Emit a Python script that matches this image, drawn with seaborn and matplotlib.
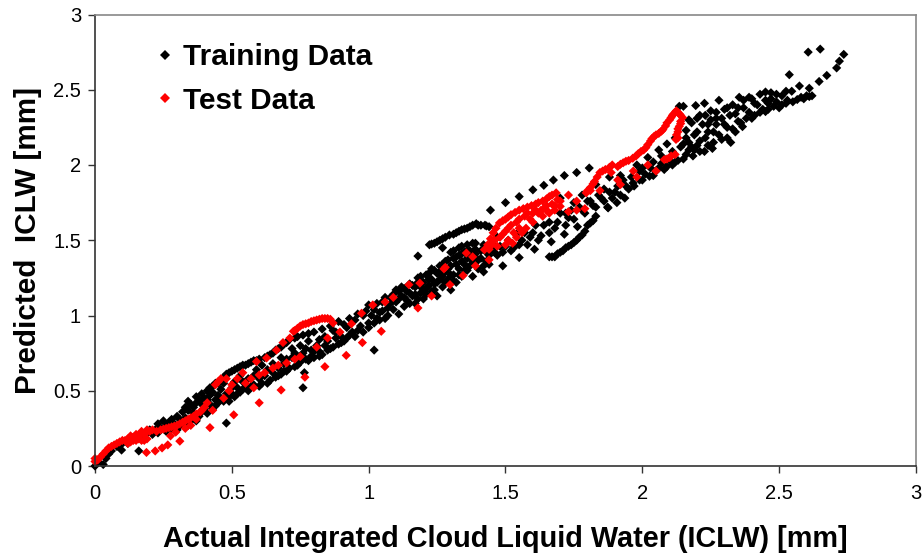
import matplotlib
matplotlib.use("Agg")
import matplotlib.pyplot as plt
import seaborn as sns
import pandas as pd

# --- values: (actual, predicted) ---
train_low = [(0.00,0.00),(0.01,0.03),(0.03,0.01),(0.04,0.05),(0.05,0.08),(0.06,0.10),(0.08,0.13),(0.10,0.15),(0.097,0.106),
    (0.12,0.15),(0.14,0.19),(0.16,0.10),(0.17,0.20),(0.19,0.22),(0.20,0.24),(0.22,0.24),(0.23,0.28),(0.24,0.25),(0.25,0.30),
    (0.26,0.27),(0.28,0.31),(0.31,0.31),(0.33,0.32),(0.30,0.24),(0.28,0.25),(0.26,0.23),(0.34,0.27),(0.37,0.30),(0.33,0.39),(0.34,0.43),
    (0.35,0.41),(0.37,0.42),(0.39,0.41),(0.40,0.45),(0.39,0.36),(0.41,0.50),(0.42,0.47),(0.43,0.53),(0.43,0.38),(0.44,0.44),(0.45,0.55),
    (0.46,0.44),(0.47,0.59),(0.48,0.285),(0.49,0.46),(0.49,0.62),(0.50,0.52),(0.51,0.64),(0.52,0.48),(0.53,0.66),(0.54,0.56),(0.55,0.67),
    (0.56,0.50),(0.57,0.69),(0.58,0.60),(0.59,0.70),(0.60,0.53),(0.62,0.72),(0.63,0.55),(0.64,0.74),(0.65,0.62),(0.66,0.77),(0.67,0.60),
    (0.68,0.79),(0.69,0.68),(0.70,0.63),(0.70,0.82),(0.72,0.72),(0.73,0.85),(0.74,0.67),(0.76,0.52),(0.765,0.62),(0.76,0.75),(0.78,0.70),
    (0.78,0.88),(0.80,0.76),(0.82,0.73),(0.82,0.84),(0.84,0.80),(0.86,0.78),(0.87,0.90),(0.88,0.85),(0.90,0.82),(0.92,0.92),(0.93,0.87),
    (0.95,0.97),(0.96,0.90),(0.98,1.00),(1.00,0.95),(1.02,0.77),(1.02,1.04),(1.03,0.98)]
train_low_fill = [(0.21,0.21),(0.23,0.22),(0.25,0.25),(0.27,0.29),(0.29,0.28),(0.30,0.33),(0.31,0.27),(0.32,0.36),(0.33,0.29),(0.34,0.37),(0.35,0.30),
    (0.36,0.39),(0.36,0.35),(0.37,0.46),(0.38,0.33),(0.38,0.44),(0.39,0.48),(0.40,0.38),(0.41,0.35),(0.41,0.44),(0.42,0.52),(0.42,0.41),(0.43,0.49),
    (0.44,0.40),(0.44,0.55),(0.45,0.47),(0.45,0.42),(0.46,0.57),(0.46,0.51),(0.47,0.43),(0.47,0.55),(0.48,0.48),(0.48,0.61),(0.49,0.43),(0.50,0.48),
    (0.50,0.63),(0.51,0.46),(0.51,0.56),(0.52,0.65),(0.52,0.52),(0.53,0.49),(0.53,0.60),(0.54,0.51),(0.54,0.67),(0.55,0.52),(0.56,0.68),(0.56,0.58),
    (0.57,0.53),(0.58,0.70),(0.58,0.54),(0.59,0.64),(0.60,0.71),(0.60,0.58),(0.61,0.55),(0.61,0.67),(0.62,0.60),(0.63,0.73),(0.63,0.64),(0.64,0.57),
    (0.65,0.75),(0.65,0.68),(0.66,0.59),(0.67,0.78),(0.67,0.65),(0.68,0.61),(0.68,0.72),(0.69,0.81),(0.69,0.63),(0.70,0.71),(0.71,0.65),(0.71,0.84),
    (0.72,0.78),(0.73,0.66),(0.73,0.75),(0.74,0.86),(0.74,0.72),(0.75,0.69),(0.75,0.80),(0.76,0.87),(0.77,0.71),(0.77,0.78),(0.78,0.83),(0.79,0.73),
    (0.79,0.77),(0.80,0.89),(0.80,0.72),(0.81,0.80),(0.82,0.76),(0.83,0.91),(0.83,0.74),(0.84,0.86),(0.85,0.77),(0.85,0.83),(0.86,0.93),(0.87,0.79),
    (0.88,0.89),(0.89,0.81),(0.89,0.96),(0.90,0.86),(0.91,0.83),(0.91,0.94),(0.92,0.85),(0.93,0.98),(0.94,0.89),(0.95,0.86),(0.96,1.01),(0.97,0.93),
    (0.98,0.89),(0.99,1.03),(1.00,0.92),(1.00,1.07),(1.01,1.00),(1.02,0.95),(1.03,1.08),(1.04,0.97)]
train_mid = [(1.04,1.02),(1.05,1.09),(1.06,0.98),(1.07,1.05),(1.08,1.12),(1.09,1.04),(1.10,1.17),(1.10,1.09),(1.11,1.01),(1.12,1.13),(1.12,1.19),
    (1.13,1.06),(1.14,1.16),(1.14,1.10),(1.15,1.21),(1.16,1.13),(1.17,1.08),(1.17,1.19),(1.18,1.395),(1.18,1.25),(1.19,1.15),(1.20,1.22),
    (1.20,1.11),(1.21,1.27),(1.21,1.18),(1.22,1.24),(1.23,1.16),(1.23,1.31),(1.24,1.21),(1.25,1.28),(1.25,1.13),(1.26,1.33),(1.26,1.24),
    (1.27,1.45),(1.27,1.19),(1.28,1.29),(1.28,1.36),(1.29,1.24),(1.30,1.33),(1.30,1.17),(1.31,1.38),(1.31,1.27),(1.32,1.22),(1.33,1.40),
    (1.33,1.31),(1.34,1.26),(1.35,1.42),(1.35,1.34),(1.36,1.30),(1.37,1.43),(1.38,1.36),(1.38,1.26),(1.39,1.41),(1.40,1.31),(1.41,1.38),
    (1.42,1.29),(1.43,1.42),(1.44,1.34),(1.45,1.45),(1.47,1.40),(1.49,1.33),(1.50,1.46),(1.52,1.43),(1.55,1.385),(1.56,1.50),(1.58,1.47),
    (1.606,1.44),(1.60,1.55),(1.63,1.53),(1.667,1.49),(1.68,1.58),(1.715,1.54),(1.73,1.65),(1.763,1.59),(1.78,1.70),(1.82,1.73),(1.85,1.78),
    (1.873,1.72),(1.875,1.715),(1.90,1.82),(1.907,1.75),(1.936,1.78),(1.94,1.86),(1.966,1.88),(1.99,1.90),(2.026,1.925),(2.05,1.96),(2.08,1.97),
    (2.11,2.00),(2.13,2.03),(2.16,2.07),(2.185,2.06),(2.20,2.13)]
train_mid_fill = [(1.05,1.03),(1.06,1.12),(1.07,1.00),(1.08,1.08),(1.09,1.14),(1.11,1.11),(1.11,1.16),(1.13,1.18),(1.13,1.12),(1.15,1.15),(1.15,1.08),
    (1.16,1.20),(1.17,1.14),(1.18,1.22),(1.18,1.11),(1.19,1.19),(1.19,1.26),(1.20,1.16),(1.21,1.14),(1.22,1.20),(1.22,1.28),(1.23,1.24),(1.24,1.30),
    (1.24,1.17),(1.25,1.22),(1.26,1.29),(1.27,1.26),(1.27,1.34),(1.28,1.22),(1.29,1.31),(1.29,1.37),(1.30,1.27),(1.31,1.23),(1.32,1.34),(1.32,1.39),
    (1.33,1.27),(1.34,1.36),(1.34,1.41),(1.35,1.30),(1.36,1.38),(1.36,1.43),(1.37,1.33),(1.38,1.40),(1.39,1.35),(1.39,1.44),(1.40,1.37),(1.41,1.43),
    (1.42,1.33),(1.43,1.36),(1.44,1.40),(1.46,1.42),(1.48,1.46),(1.49,1.42),(1.51,1.50),(1.53,1.45),(1.54,1.54),(1.55,1.47),(1.57,1.55),(1.59,1.52),
    (1.61,1.60),(1.62,1.50),(1.64,1.60),(1.66,1.55),(1.69,1.62),(1.70,1.68),(1.72,1.60),(1.74,1.70),(1.75,1.64),(1.77,1.72),(1.79,1.68),(1.81,1.76),
    (1.83,1.72),(1.84,1.80),(1.86,1.76),(1.88,1.82),(1.89,1.78),(1.91,1.86),(1.92,1.80),(1.93,1.90),(1.95,1.84),(1.96,1.92),(1.97,1.86),(1.99,1.96),
    (2.00,1.90),(2.01,1.94),(2.03,1.98),(2.04,1.93),(2.06,1.98),(2.07,2.01),(2.09,1.99),(2.10,2.03),(2.12,2.02),(2.15,2.04),(2.17,2.10),(2.19,2.10),(2.21,2.09)]
train_upper_arc = [(1.222,1.47),(1.24,1.48),(1.26,1.50),(1.28,1.52),(1.295,1.535),(1.32,1.55),(1.34,1.57),(1.36,1.58),(1.38,1.60),(1.393,1.61),
    (1.41,1.60),(1.425,1.60),(1.44,1.59),(1.445,1.70),(1.50,1.75),(1.55,1.79),(1.60,1.835),(1.64,1.865),(1.675,1.90),(1.715,1.93),(1.76,1.95),(1.806,1.98),
    (1.23,1.475),(1.25,1.49),(1.27,1.51),(1.31,1.54),(1.33,1.56),(1.35,1.575),(1.37,1.59),(1.40,1.60),(1.43,1.595),
    (1.30,1.42),(1.31,1.43),(1.33,1.45),(1.34,1.46),(1.36,1.47),(1.38,1.48),(1.39,1.48),(1.42,1.47),(1.45,1.48),(1.47,1.52),(1.66,1.62),(1.70,1.78),(1.72,1.68),(1.75,1.75),(1.78,1.80),(1.80,1.76),(1.83,1.87),(1.86,1.84),(1.88,1.92),(1.92,1.93)]
train_lower_arc = [(1.66,1.39),(1.67,1.39),(1.68,1.39),(1.69,1.41),(1.70,1.42),(1.71,1.43),(1.72,1.45),(1.73,1.46),(1.74,1.47),(1.75,1.485),(1.76,1.50),(1.77,1.52),(1.78,1.535),(1.79,1.56),(1.80,1.60),(1.81,1.615),(1.82,1.63),(1.83,1.66)]
train_high = [(1.98,2.00),(2.00,1.98),(2.02,2.05),(2.04,2.02),(2.06,2.10),(2.07,2.06),(2.09,2.14),(2.11,2.09),(2.12,2.18),(2.135,2.39),(2.14,2.12),(2.15,2.39),
    (2.16,2.23),(2.17,2.15),(2.18,2.28),(2.195,2.395),(2.20,2.22),(2.21,2.33),(2.227,2.41),(2.227,2.09),(2.23,2.18),(2.24,2.27),(2.25,2.36),(2.256,2.11),
    (2.26,2.22),(2.27,2.31),(2.28,2.43),(2.29,2.17),(2.30,2.27),(2.31,2.38),(2.323,2.15),(2.33,2.24),(2.34,2.34),(2.354,2.45),(2.35,2.29),(2.366,2.255),
    (2.37,2.38),(2.39,2.45),(2.40,2.31),(2.41,2.41),(2.43,2.35),(2.45,2.485),(2.45,2.355),(2.46,2.41),(2.47,2.44),(2.49,2.47),(2.50,2.38),(2.525,2.41),
    (2.525,2.49),(2.537,2.60),(2.546,2.49),(2.566,2.435),(2.574,2.525),(2.61,2.455),(2.61,2.51),(2.59,2.44),(2.606,2.75),(2.646,2.555),(2.65,2.77),(2.674,2.595),
    (2.71,2.645),(2.72,2.69),(2.736,2.735)]
train_high_fill = [(2.15,2.14),(2.16,2.18),(2.17,2.30),(2.18,2.12),(2.19,2.20),(2.20,2.31),(2.21,2.16),(2.22,2.27),(2.23,2.33),(2.24,2.13),(2.24,2.22),(2.25,2.30),
    (2.26,2.15),(2.27,2.27),(2.27,2.35),(2.28,2.20),(2.29,2.31),(2.30,2.37),(2.31,2.18),(2.31,2.25),(2.32,2.33),(2.33,2.40),(2.34,2.22),(2.35,2.38),(2.36,2.28),
    (2.37,2.43),(2.38,2.31),(2.39,2.35),(2.40,2.44),(2.41,2.33),(2.42,2.40),(2.43,2.47),(2.44,2.37),(2.45,2.43),(2.46,2.37),(2.47,2.48),(2.48,2.39),(2.49,2.42),
    (2.51,2.40),(2.51,2.46),(2.53,2.43),(2.55,2.42),(2.58,2.45),(2.60,2.46),(2.62,2.46)]

test_low = [(0.00,0.05),(0.00,0.03),(0.01,0.04),(0.02,0.06),(0.03,0.08),(0.04,0.10),(0.05,0.12),(0.06,0.13),(0.08,0.15),(0.10,0.17),(0.11,0.17),(0.12,0.18),
    (0.13,0.20),(0.13,0.16),(0.14,0.19),(0.15,0.21),(0.15,0.17),(0.16,0.20),(0.17,0.23),(0.17,0.17),(0.18,0.21),(0.19,0.24),(0.19,0.18),(0.20,0.23),
    (0.188,0.09),(0.22,0.10),(0.245,0.12),(0.266,0.14),(0.31,0.165),(0.276,0.20),(0.295,0.225),(0.225,0.23),(0.24,0.24),(0.26,0.25),(0.28,0.26),(0.30,0.27),
    (0.32,0.29),(0.33,0.30),(0.35,0.32),(0.36,0.33),(0.33,0.25),(0.35,0.27),(0.37,0.31),(0.385,0.36),(0.40,0.39),(0.42,0.255),(0.41,0.42),(0.43,0.37),(0.45,0.56),
    (0.46,0.58),(0.48,0.58),(0.50,0.54),(0.47,0.45),(0.507,0.34),(0.54,0.62),(0.55,0.55),(0.58,0.52),(0.59,0.694),(0.60,0.42),(0.60,0.605),(0.627,0.718),
    (0.65,0.65),(0.663,0.77),(0.68,0.505),(0.687,0.82),(0.70,0.685),(0.712,0.85),(0.725,0.895),(0.74,0.915),(0.75,0.727),(0.75,0.93),(0.767,0.59),(0.77,0.945),
    (0.79,0.96),(0.81,0.79),(0.81,0.97),(0.83,0.98),(0.84,0.66),(0.85,0.85),(0.85,0.98),(0.86,0.975),(0.87,0.95),(0.895,0.89),(0.918,0.735),(0.937,0.945),
    (0.974,1.015),(0.977,0.82),(1.015,1.07),(1.046,0.895),(1.06,1.09),(1.09,1.12)]
test_low_fill = [(0.07,0.14),(0.09,0.16),(0.12,0.15),(0.14,0.17),(0.16,0.18),(0.18,0.17),(0.21,0.24),(0.25,0.245),(0.27,0.255),(0.29,0.265),(0.31,0.28),(0.34,0.31),
    (0.37,0.345),(0.39,0.37),(0.44,0.54),(0.49,0.50),(0.52,0.58),(0.57,0.58),(0.62,0.62),(0.67,0.67),(0.73,0.71),(0.73,0.90),(0.76,0.94),(0.78,0.95),(0.80,0.965),(0.82,0.975),(0.84,0.98)]
test_mid = [(1.147,1.205),(1.187,1.215),(1.23,1.13),(1.18,1.05),(1.275,1.31),(1.28,1.32),(1.297,1.205),(1.345,1.266),(1.357,1.415),(1.38,1.39),(1.39,1.33),(1.44,1.37)]
test_cluster = [(1.423,1.437),(1.435,1.47),(1.445,1.51),(1.455,1.55),(1.465,1.58),(1.478,1.615),(1.50,1.64),(1.52,1.67),(1.55,1.70),(1.58,1.72),(1.61,1.74),
    (1.636,1.76),(1.66,1.79),(1.685,1.815),(1.44,1.44),(1.47,1.46),(1.50,1.47),(1.526,1.48),(1.54,1.52),(1.56,1.55),(1.575,1.58),(1.60,1.62),(1.636,1.66),
    (1.66,1.68),(1.68,1.70),(1.70,1.725),(1.48,1.52),(1.50,1.56),(1.52,1.60),(1.55,1.64),(1.58,1.68),(1.61,1.70),(1.64,1.71),(1.67,1.74),(1.69,1.77),
    (1.73,1.69),(1.76,1.70),(1.79,1.71),(1.76,1.76),(1.81,1.83),(1.73,1.80),(1.845,1.83),(1.92,1.87),(1.98,1.92),(2.05,1.96),
    (1.49,1.63),(1.51,1.655),(1.535,1.685),(1.565,1.71),(1.595,1.73),(1.62,1.75),(1.65,1.775),(1.67,1.80),(1.65,1.73),(1.63,1.70),(1.60,1.68),(1.57,1.66),(1.54,1.62),
    (1.51,1.58),(1.49,1.54),(1.46,1.50),(1.45,1.47),(1.51,1.50),(1.53,1.55),(1.55,1.58),(1.59,1.64),(1.62,1.68),(1.65,1.70),(1.68,1.73),(1.70,1.76)]
test_high = [(1.795,1.815),(1.80,1.83),(1.81,1.85),(1.82,1.875),(1.825,1.89),(1.835,1.92),(1.845,1.95),(1.855,1.96),(1.865,1.97),(1.88,1.985),(1.89,2.00),(1.886,1.95),(1.91,1.99),(1.92,2.005),(1.93,2.015),(1.94,2.025),(1.95,2.03),(1.965,2.045),(1.977,2.06),
    (1.985,2.075),(1.995,2.09),(2.005,2.10),(2.013,2.115),(2.02,2.135),(2.03,2.16),(2.035,2.175),(2.043,2.19),(2.05,2.20),(2.06,2.21),(2.07,2.225),(2.075,2.235),(2.085,2.26),(2.09,2.28),(2.10,2.30),(2.105,2.315),(2.11,2.33),(2.115,2.34),(2.12,2.35),(2.124,2.36),(2.13,2.35),(2.135,2.34),(2.14,2.33),(2.147,2.315),
    (2.14,2.29),(2.14,2.275),(2.135,2.257),(2.13,2.24),(2.13,2.22),(2.125,2.20),(2.123,2.17),(2.13,2.18),(2.10,2.05),(2.105,2.06),(2.12,2.07),(2.09,2.04),(2.08,2.036),(2.02,2.00),(1.967,1.96),(1.91,1.90)]

train_pts = train_low + train_low_fill + train_mid + train_mid_fill + train_upper_arc + train_lower_arc + train_high + train_high_fill
test_pts = test_low + test_low_fill + test_mid + test_cluster + test_high
series_names = ["Training Data", "Test Data"]
x_ticks = [0, 0.5, 1, 1.5, 2, 2.5, 3]
y_ticks = [0, 0.5, 1, 1.5, 2, 2.5, 3]

df = pd.DataFrame(train_pts + test_pts, columns=["actual", "predicted"])
df["series"] = [series_names[0]] * len(train_pts) + [series_names[1]] * len(test_pts)

sns.set_theme(style="white")
plt.rcParams["font.family"] = ["Liberation Sans", "DejaVu Sans"]

fig = plt.figure(figsize=(9.24, 5.56), dpi=100)
ax = fig.add_axes([95 / 924, 1 - 466 / 556, 821 / 924, 451.5 / 556])

sns.scatterplot(data=df, x="actual", y="predicted", hue="series", palette=["black", "#ff0000"],
                marker="D", s=22, linewidth=0, ax=ax, clip_on=False)

ax.set_xlim(0, 3)
ax.set_ylim(0, 3)
ax.set_xticks(x_ticks)
ax.set_xticklabels([f"{v:g}" for v in x_ticks])
ax.set_yticks(y_ticks)
ax.set_yticklabels([f"{v:g}" for v in y_ticks])
ax.tick_params(axis="both", length=5, width=1, color="#333333", labelsize=14.5, labelcolor="black", bottom=True, left=True)
ax.tick_params(axis="x", pad=8)
ax.tick_params(axis="y", pad=5)

ax.set_xlabel("Actual Integrated Cloud Liquid Water (ICLW) [mm]", fontsize=20.8, fontweight="bold", labelpad=15.5, color="black")
ax.set_ylabel("Predicted  ICLW [mm]", fontsize=21.4, fontweight="bold", labelpad=8, color="black")

for side in ["left", "bottom"]:
    ax.spines[side].set_color("#333333")
    ax.spines[side].set_linewidth(1.2)
for side in ["top", "right"]:
    ax.spines[side].set_color("#888888")
    ax.spines[side].set_linewidth(1.2)

leg = ax.legend(loc="upper left", bbox_to_anchor=(0.067, 0.937), frameon=False, title=None,
                prop={"family": "Liberation Sans", "weight": "bold", "size": 21.4},
                labelcolor="black", handlelength=1, handletextpad=0.1, labelspacing=0.525, borderpad=0, borderaxespad=0)

fig.savefig("out.png", dpi=100)
